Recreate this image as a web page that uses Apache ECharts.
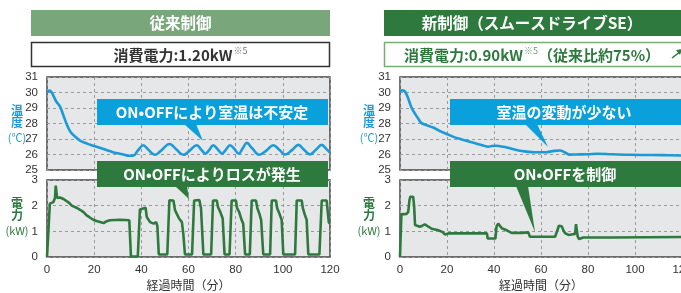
<!DOCTYPE html>
<html><head><meta charset="utf-8">
<script src="https://cdn.jsdelivr.net/npm/echarts@6/dist/echarts.min.js"></script>
<style>html,body{margin:0;padding:0;background:#fff;}#c{width:681px;height:293px;}</style>
</head><body><div id="c"></div>
<script>
// ---- data ----
const xTicks = [0, 20, 40, 60, 80, 100, 120];
const tempTicks = [25, 26, 27, 28, 29, 30, 31];
const powerTicks = [0, 1, 2, 3];

// [minutes, °C]
const leftTemp = [[0,30.0],[1,30.12],[2,30.0],[3,29.7],[4,29.4],[5.5,29.1],[7,28.5],[8.5,27.9],[10,27.45],[12,27.15],[14,26.9],[17,26.7],[20,26.55],[24,26.35],[28,26.15],[32,26.02],[35,25.92],[36.5,25.92],[38.5,26.25],[40.8,26.6],[43,26.3],[45.8,25.98],[48,26.2],[52,26.68],[55,26.3],[57.8,25.98],[60.5,26.25],[63.5,26.6],[65.5,26.3],[67.2,26.05],[68.8,26.3],[70.5,26.6],[72.3,26.35],[74.2,26.05],[75.8,26.3],[77.6,26.6],[79.5,26.35],[81.2,26.05],[83,26.4],[84.7,26.75],[87,26.4],[90,25.98],[93,26.25],[96,26.6],[98.5,26.3],[101,26.0],[104,26.3],[106.6,26.62],[109,26.3],[111.5,26.0],[114,26.3],[116.5,26.62],[118.5,26.35],[120,26.12]];
// [minutes, kW]
const leftPower = [[0,0],[0.3,0.5],[1.2,2.08],[2.7,2.14],[3.4,2.3],[3.7,2.78],[4.0,2.75],[4.3,2.3],[5.0,2.36],[5.5,2.32],[7,2.26],[8.3,2.18],[9.5,2.1],[10.5,2.0],[11.2,2.02],[12.5,1.92],[13.2,1.95],[14,1.84],[15.5,1.75],[16.8,1.62],[18,1.55],[19.6,1.45],[21,1.4],[22.5,1.36],[24,1.32],[25,1.38],[26.7,1.43],[31,1.45],[34.9,1.43],[35.3,1.4],[35.6,0.02],[38.5,0.02],[39.4,1.85],[40,1.9],[41.8,1.92],[42.3,1.56],[43.7,1.36],[44.4,1.42],[45.2,1.3],[45.8,1.23],[46.3,1.36],[46.8,1.2],[47.4,0.1],[51,0.1],[51.9,2.21],[53.6,2.2],[54.3,1.82],[55,1.69],[56,1.5],[56.5,1.55],[57.2,1.36],[57.8,0.9],[58.5,0.1],[61.5,0.1],[62.4,2.2],[64.6,2.22],[65.3,1.9],[66.3,0.1],[69.6,0.1],[70.4,2.2],[72,2.2],[72.5,1.95],[73.5,1.75],[74.5,1.5],[75.3,0.1],[77.4,0.1],[78.3,2.2],[80.1,2.2],[80.6,1.9],[81.5,1.75],[82.5,1.45],[83.2,1.3],[84,0.1],[86,0.1],[86.8,2.2],[88.6,2.2],[89.2,1.9],[90,1.7],[90.8,1.45],[91.7,0.1],[94.6,0.1],[95.3,2.2],[97.1,2.2],[97.6,1.9],[98.5,1.7],[99.5,1.45],[100.2,0.1],[105.2,0.1],[105.9,2.2],[108,2.2],[108.5,1.9],[109.3,1.65],[110.1,1.45],[110.8,0.1],[115.5,0.1],[116.5,2.2],[118.6,2.2],[119,1.8],[119.5,1.35],[120,1.3]];
const rightTemp = [[0,30.0],[0.8,30.15],[2,30.08],[3,29.8],[5,29.0],[6.5,28.6],[7.8,28.3],[9,28.05],[10.6,27.93],[13,27.8],[15,27.68],[17.5,27.48],[20.6,27.28],[23,27.12],[26.2,26.97],[29,26.85],[32,26.73],[35,26.6],[37.6,26.5],[39,26.55],[41,26.56],[44,26.5],[46,26.43],[48,26.35],[50.4,26.26],[53,26.2],[57.4,26.15],[62,26.15],[65,26.22],[68,26.26],[70,26.15],[72.3,25.99],[75,26.0],[80,26.02],[84,26.05],[90,26.02],[98,25.98],[105,25.97],[112,25.96],[120,25.93]];
const rightPower = [[0,0],[0.4,0],[0.6,1.66],[2.8,1.68],[3.5,1.76],[4,2.2],[4.4,2.35],[5.6,2.35],[6,2.0],[6.4,1.25],[7.1,1.18],[8.5,1.18],[9.5,1.22],[10.6,1.27],[12.1,1.18],[13.5,1.1],[16.3,1.04],[18,0.98],[19.1,0.88],[20.6,0.92],[26,0.92],[37,0.92],[37.3,0.72],[40.6,0.72],[41.1,1.2],[41.8,1.3],[42.6,1.25],[43.3,1.12],[45.4,1.04],[47.5,0.94],[51.8,0.94],[52.5,0.98],[54.6,0.96],[55.3,0.79],[66,0.79],[66.6,0.74],[67.2,1.1],[67.6,1.22],[68.8,1.2],[69.5,1.05],[70.2,0.93],[71.7,0.86],[73,0.88],[74.5,0.9],[74.9,1.28],[75.3,1.3],[75.6,0.8],[76.2,0.7],[77,0.7],[78,0.76],[90,0.76],[105,0.77],[120,0.78]];

// ---- styles ----
const BLUE = '#1b9ad8', CALL_BLUE = '#0aa0dc', GREEN = '#2e7a3e', LGREEN = '#7aa67c';
const NUMF = 'Liberation Sans, Noto Sans CJK JP, sans-serif';
const JPF = 'Noto Sans CJK JP, sans-serif';

const chart = echarts.init(document.getElementById('c'), null, {renderer: 'canvas'});

const gridBase = {show: true, backgroundColor: '#e6e7e8', borderColor: '#444', borderWidth: 1.5, containLabel: false, outerBoundsMode: 'none'};
const grids = [
  Object.assign({left: 47, top: 77, width: 283, height: 93}, gridBase),
  Object.assign({left: 47, top: 180, width: 283, height: 77}, gridBase),
  Object.assign({left: 400, top: 77, width: 282, height: 93}, gridBase),
  Object.assign({left: 400, top: 180, width: 282, height: 77}, gridBase)
];
const dash = {show: true, lineStyle: {color: '#9a9a9a', width: 1, type: [3, 3]}};

function xAx(i, labels) {
  return {
    type: 'value', gridIndex: i, min: xTicks[0], max: xTicks[xTicks.length - 1], interval: xTicks[1] - xTicks[0],
    axisLine: {show: false}, axisTick: {show: false}, splitLine: dash,
    axisLabel: {show: labels, color: '#333', fontSize: 11.5, fontFamily: NUMF, margin: 7, hideOverlap: false},
    name: labels ? '経過時間（分）' : '', nameLocation: 'middle', nameGap: 22,
    nameTextStyle: {color: '#333', fontSize: 12, fontFamily: JPF}
  };
}
function yAx(i, ticks) {
  return {
    type: 'value', gridIndex: i, min: ticks[0], max: ticks[ticks.length - 1], interval: 1,
    axisLine: {show: false}, axisTick: {show: false}, splitLine: dash,
    axisLabel: {color: '#333', fontSize: 11.5, fontFamily: NUMF, margin: 9}
  };
}

function line(data, i, color, smooth) {
  return {type: 'line', xAxisIndex: i, yAxisIndex: i, data: data, showSymbol: false, smooth: smooth,
    lineStyle: {color: color, width: 2.6}, z: 3, animation: false};
}

function callout(x, y, w, h, fill, text, tx, ty, tri) {
  return [
    {type: 'polygon', shape: {points: tri}, style: {fill: fill}, z: 20},
    {type: 'rect', shape: {x: x, y: y, width: w, height: h}, style: {fill: fill}, z: 20},
    {type: 'text', x: tx, y: ty, z: 21, style: {text: text, fill: '#fff', font: 'bold 15px ' + JPF, align: 'center', verticalAlign: 'middle'}}
  ];
}

function axisName(x, y1, y2, y3, w1, w2, w3, color) {
  return [
    {type: 'text', x: x, y: y1, z: 10, style: {text: w1, fill: color, font: 'bold 12px ' + JPF, align: 'center', verticalAlign: 'middle'}},
    {type: 'text', x: x, y: y2, z: 10, style: {text: w2, fill: color, font: 'bold 12px ' + JPF, align: 'center', verticalAlign: 'middle'}},
    {type: 'text', x: x, y: y3, z: 10, style: {text: w3, fill: color, font: '11px ' + JPF, align: 'center', verticalAlign: 'middle'}}
  ];
}

const graphics = [].concat(
  [
    {type: 'rect', shape: {x: 31, y: 10, width: 299, height: 26}, style: {fill: LGREEN}, z: 10},
    {type: 'text', x: 180.5, y: 23, z: 11, style: {text: '従来制御', fill: '#fff', font: 'bold 15.5px ' + JPF, align: 'center', verticalAlign: 'middle'}},
    {type: 'rect', shape: {x: 384, y: 10, width: 299, height: 26}, style: {fill: GREEN}, z: 10},
    {type: 'text', x: 532, y: 23, z: 11, style: {text: '新制御（スムースドライブSE）', fill: '#fff', font: 'bold 15.5px ' + JPF, align: 'center', verticalAlign: 'middle'}},
    {type: 'rect', shape: {x: 31.5, y: 42.5, width: 298, height: 24}, style: {fill: '#fff', stroke: '#333', lineWidth: 1.5}, z: 10},
    {type: 'text', x: 180.5, y: 55, z: 11, style: {
      text: '{a|消費電力:1.20kW}{s|※5}', align: 'center', verticalAlign: 'middle',
      rich: {a: {fill: '#333', font: 'bold 15px ' + JPF}, s: {fill: '#777', font: '9px ' + JPF, verticalAlign: 'top', padding: [0, 0, 8, 1]}}}},
    {type: 'rect', shape: {x: 384.5, y: 42.5, width: 298, height: 24}, style: {fill: '#fff', stroke: '#78ad7a', lineWidth: 1.5}, z: 10},
    {type: 'text', x: 532, y: 55, z: 11, style: {
      text: '{a|消費電力:0.90kW}{s|※5}{a|（従来比約75%）}', align: 'center', verticalAlign: 'middle',
      rich: {a: {fill: GREEN, font: 'bold 15px ' + JPF}, s: {fill: '#6d9f70', font: '9px ' + JPF, verticalAlign: 'top', padding: [0, 0, 8, 1]}}}},
    {type: 'polyline', shape: {points: [[672, 58], [681, 51]]}, style: {stroke: GREEN, lineWidth: 1.5}, z: 11},
    {type: 'polygon', shape: {points: [[676, 50], [682, 49], [680, 55]]}, style: {fill: GREEN}, z: 11}
  ],
  axisName(17, 110, 122, 138, '温', '度', '(℃)', BLUE),
  axisName(17, 203, 215, 231, '電', '力', '(kW)', GREEN),
  axisName(369, 110, 122, 138, '温', '度', '(℃)', BLUE),
  axisName(369, 203, 215, 231, '電', '力', '(kW)', GREEN),
  callout(97, 99, 231, 26, CALL_BLUE, 'ON•OFFにより室温は不安定', 212, 112, [[184, 124], [196, 124], [203, 141]]),
  callout(97, 161, 231, 26, GREEN, 'ON•OFFによりロスが発生', 212, 174, [[175, 186], [187, 186], [189, 199]]),
  callout(450, 99, 232, 26, CALL_BLUE, '室温の変動が少ない', 564, 112, [[525, 124], [537, 124], [548, 147]]),
  callout(450, 161, 232, 26, GREEN, 'ON•OFFを制御', 565, 174, [[516, 186], [528, 186], [535, 232]])
);

chart.setOption({
  animation: false,
  backgroundColor: '#fff',
  grid: grids,
  xAxis: [xAx(0, false), xAx(1, true), xAx(2, false), xAx(3, true)],
  yAxis: [yAx(0, tempTicks), yAx(1, powerTicks), yAx(2, tempTicks), yAx(3, powerTicks)],
  series: [
    line(leftTemp, 0, BLUE, 0.4),
    line(leftPower, 1, GREEN, false),
    line(rightTemp, 2, BLUE, 0.4),
    line(rightPower, 3, GREEN, false)
  ],
  graphic: {elements: graphics}
});
</script></body></html>
